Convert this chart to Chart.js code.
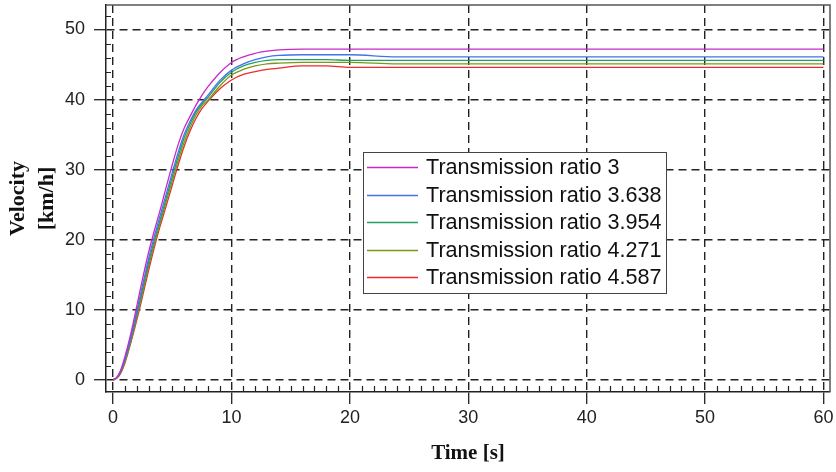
<!DOCTYPE html>
<html>
<head>
<meta charset="utf-8">
<script src="https://cdn.jsdelivr.net/npm/chart.js@4/dist/chart.umd.min.js"></script>
<style>
  html, body { margin: 0; padding: 0; background: #fff; }
  #wrap { width: 836px; height: 472px; }
</style>
</head>
<body>
<div id="wrap"><canvas id="velocityChart"></canvas></div>
<script>
// time [s]
var time = [0, 0.3, 0.6, 1, 1.5, 2, 2.5, 3, 3.5, 4, 4.5, 5, 5.5, 6, 6.5, 7, 7.5, 8, 9, 10, 11, 12, 13, 14, 16, 18, 20, 24, 30, 40, 50, 60];

// velocity [km/h] for each transmission ratio
var ratio3 = [0, 0.3, 1.2, 3.3, 6.6, 10.5, 14.5, 18.2, 21.4, 24.4, 27.6, 30.7, 33.6, 35.9, 37.6, 39.2, 40.6, 41.8, 43.8, 45.3, 46.1, 46.6, 46.9, 47.1, 47.2, 47.2, 47.2, 47.2, 47.2, 47.2, 47.2, 47.2];
var ratio3638 = [0, 0.3, 1.1, 3.0, 6.1, 9.8, 13.6, 17.3, 20.6, 23.6, 26.6, 29.6, 32.5, 35.0, 36.9, 38.5, 39.6, 40.6, 42.7, 44.2, 45.1, 45.7, 46.1, 46.3, 46.4, 46.4, 46.4, 46.1, 46.1, 46.1, 46.1, 46.1];
var ratio3954 = [0, 0.3, 1.0, 2.8, 5.8, 9.3, 13.0, 16.7, 20.0, 23.0, 26.0, 29.0, 31.9, 34.5, 36.5, 38.2, 39.4, 40.3, 42.4, 43.9, 44.8, 45.3, 45.6, 45.7, 45.7, 45.7, 45.6, 45.6, 45.6, 45.6, 45.6, 45.6];
var ratio4271 = [0, 0.25, 0.9, 2.6, 5.5, 8.9, 12.5, 16.2, 19.5, 22.6, 25.5, 28.4, 31.3, 33.9, 36.0, 37.8, 39.1, 39.9, 41.9, 43.5, 44.3, 44.8, 45.1, 45.2, 45.3, 45.3, 45.3, 45.1, 45.1, 45.1, 45.1, 45.1];
var ratio4587 = [0, 0.2, 0.8, 2.4, 5.3, 8.5, 12.0, 15.6, 19.0, 22.1, 24.9, 27.8, 30.7, 33.3, 35.5, 37.3, 38.7, 39.7, 41.5, 42.8, 43.6, 44.0, 44.3, 44.5, 44.8, 44.8, 44.6, 44.6, 44.6, 44.6, 44.6, 44.6];

var seriesNames = ['Transmission ratio 3', 'Transmission ratio 3.638', 'Transmission ratio 3.954', 'Transmission ratio 4.271', 'Transmission ratio 4.587'];
var seriesColors = ['#c828c8', '#4670ee', '#22a060', '#76981c', '#ee2a2a'];
var seriesValues = [ratio3, ratio3638, ratio3954, ratio4271, ratio4587];

var xTicks = [0, 10, 20, 30, 40, 50, 60];
var yTicks = [0, 10, 20, 30, 40, 50];

function toPoints(values) {
  return values.map(function (v, i) { return { x: time[i], y: v }; });
}

var datasets = seriesValues.map(function (vals, i) {
  return {
    label: seriesNames[i],
    data: toPoints(vals),
    borderColor: seriesColors[i],
    backgroundColor: seriesColors[i],
    borderWidth: 1.3,
    pointRadius: 0,
    cubicInterpolationMode: 'monotone',
    fill: false
  };
});

// small inner ticks + top/right frame
var framePlugin = {
  id: 'frame',
  afterDraw: function (chart) {
    var ctx = chart.ctx;
    var a = chart.chartArea;
    var xs = chart.scales.x, ys = chart.scales.y;
    ctx.save();
    ctx.strokeStyle = '#222';
    ctx.lineWidth = 1.2;
    ctx.beginPath();
    for (var t = 0; t <= 60; t++) {
      if (t % 10 === 0) continue;
      var px = Math.round(xs.getPixelForValue(t)) + 0.5;
      ctx.moveTo(px, a.bottom);
      ctx.lineTo(px, a.bottom - 6);
    }
    for (var v = 0; v <= 52; v += 2) {
      if (v % 10 === 0) continue;
      var py = Math.round(ys.getPixelForValue(v)) + 0.5;
      ctx.moveTo(a.left, py);
      ctx.lineTo(a.left + 5, py);
    }
    ctx.stroke();

    ctx.strokeStyle = '#555';
    ctx.lineWidth = 1.5;
    ctx.beginPath();
    ctx.moveTo(a.left, a.top);
    ctx.lineTo(a.right, a.top);
    ctx.lineTo(a.right, a.bottom);
    ctx.stroke();
    ctx.restore();
  }
};

// boxed legend inside the plot
var legendPlugin = {
  id: 'boxLegend',
  afterDraw: function (chart) {
    var ctx = chart.ctx;
    var bx = 363, by = 152, bw = 303, bh = 141;
    ctx.save();
    ctx.fillStyle = '#fff';
    ctx.fillRect(bx, by, bw, bh);
    ctx.strokeStyle = '#444';
    ctx.lineWidth = 1;
    ctx.strokeRect(bx + 0.5, by + 0.5, bw, bh);
    ctx.font = '21.6px "Liberation Sans", Arial, sans-serif';
    ctx.textBaseline = 'middle';
    chart.data.datasets.forEach(function (ds, i) {
      var y = Math.round(by + 15 + i * 27.5) + 0.5;
      ctx.strokeStyle = ds.borderColor;
      ctx.lineWidth = 1.3;
      ctx.beginPath();
      ctx.moveTo(bx + 4, y);
      ctx.lineTo(bx + 55, y);
      ctx.stroke();
      ctx.fillStyle = '#111';
      ctx.fillText(ds.label, bx + 63, y + 1);
    });
    ctx.restore();
  }
};

var gridStyle = {
  color: '#222',
  lineWidth: 1.4,
  tickLength: 12,
  tickColor: '#222',
  tickWidth: 1.3,
  tickBorderDash: []
};
var tickFont = { family: '"Liberation Sans", Arial, sans-serif', size: 18 };

var ctx = document.getElementById('velocityChart').getContext('2d');
new Chart(ctx, {
  type: 'line',
  data: { datasets: datasets },
  options: {
    responsive: true,
    maintainAspectRatio: false,
    animation: false,
    layout: { padding: { left: 0, right: 6, top: 5, bottom: 0 } },
    plugins: {
      legend: { display: false },
      tooltip: { enabled: false }
    },
    scales: {
      x: {
        type: 'linear',
        min: -0.6,
        max: 60.55,
        afterFit: function (s) { s.height = 80; s.paddingLeft = 0; s.paddingRight = 0; },
        afterBuildTicks: function (s) { s.ticks = xTicks.map(function (v) { return { value: v }; }); },
        ticks: { includeBounds: false, padding: 3, color: '#222', font: tickFont },
        grid: gridStyle,
        border: { display: true, color: '#222', width: 1.5, dash: [8, 5] },
        title: {
          display: true,
          text: 'Time [s]',
          color: '#111',
          padding: { top: 0, bottom: 6 },
          font: { family: '"Liberation Serif", "Times New Roman", serif', size: 21, weight: 'bold' }
        }
      },
      y: {
        type: 'linear',
        min: -1.75,
        max: 53.5,
        afterFit: function (s) { s.width = 106; s.paddingTop = 0; s.paddingBottom = 0; },
        afterBuildTicks: function (s) { s.ticks = yTicks.map(function (v) { return { value: v }; }); },
        ticks: { includeBounds: false, padding: 9, color: '#222', font: tickFont },
        grid: gridStyle,
        border: { display: true, color: '#222', width: 1.5, dash: [8, 5] },
        title: {
          display: true,
          text: ['Velocity', '[km/h]'],
          color: '#111',
          padding: { top: 4, bottom: 0 },
          font: { family: '"Liberation Serif", "Times New Roman", serif', size: 22, weight: 'bold', lineHeight: 1.32 }
        }
      }
    }
  },
  plugins: [framePlugin, legendPlugin]
});
</script>
</body>
</html>
